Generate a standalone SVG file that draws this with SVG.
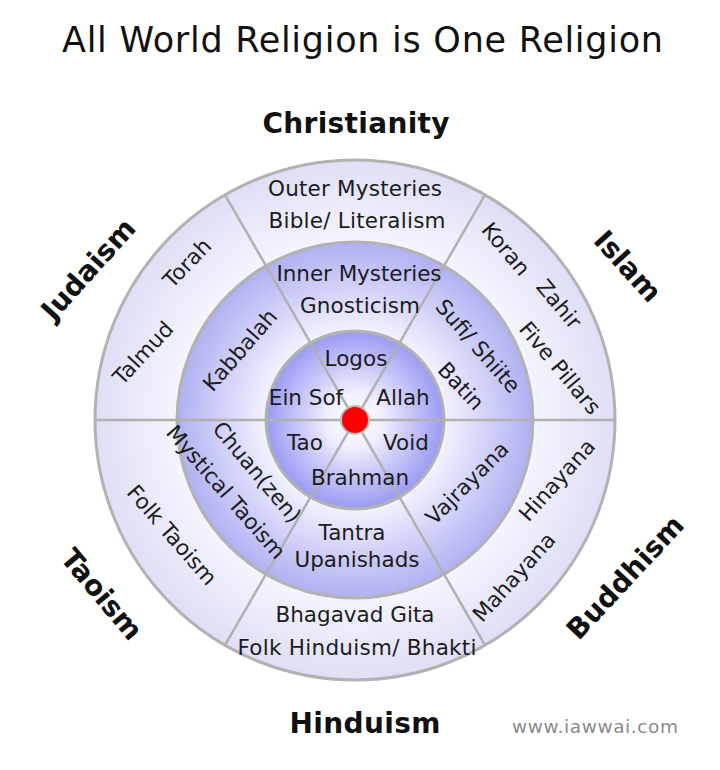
<svg xmlns="http://www.w3.org/2000/svg" width="720" height="770" viewBox="0 0 720 770">
<defs>
<radialGradient id="gOuter" gradientUnits="userSpaceOnUse" cx="355" cy="420" r="260">
<stop offset="0.68" stop-color="#f5f5fe"/>
<stop offset="1" stop-color="#dedef6"/>
</radialGradient>
<radialGradient id="gMid" gradientUnits="userSpaceOnUse" cx="355" cy="420" r="178">
<stop offset="0.5" stop-color="#f2f2ff"/>
<stop offset="1" stop-color="#b0b0f2"/>
</radialGradient>
<radialGradient id="gInner" gradientUnits="userSpaceOnUse" cx="355" cy="420" r="89">
<stop offset="0" stop-color="#ffffff"/>
<stop offset="0.3" stop-color="#f0f0ff"/>
<stop offset="1" stop-color="#9a9af3"/>
</radialGradient>
</defs>
<style>
.ring{stroke:#b2b2b2;stroke-width:3}
.div{stroke:#b0b0b0;stroke-width:2.5;fill:none}
.t{font-family:"DejaVu Sans",Verdana,sans-serif;font-size:21.5px;fill:#1c1c1c;text-anchor:middle}
.b{font-family:"DejaVu Sans",Verdana,sans-serif;font-size:28px;font-weight:bold;fill:#111;text-anchor:middle}
.title{font-family:"DejaVu Sans",Verdana,sans-serif;font-size:35px;fill:#111;text-anchor:middle}
.url{font-family:"DejaVu Sans",Verdana,sans-serif;font-size:18.5px;fill:#8a8a8a;text-anchor:middle}
</style>
<rect width="720" height="770" fill="#ffffff"/>
<text class="title" x="362.5" y="52" textLength="601">All World Religion is One Religion</text>

<g id="ring-outer"><circle class="ring" cx="355" cy="420" r="260" fill="url(#gOuter)" stroke-width="3.5"/></g>
<g id="ring-middle"><circle class="ring" cx="355" cy="420" r="178" fill="url(#gMid)"/></g>
<g id="ring-inner"><circle class="ring" cx="355" cy="420" r="89" fill="url(#gInner)"/></g>

<g id="connectors">
<line class="div" x1="95" y1="420" x2="615" y2="420"/>
<line class="div" x1="225" y1="194.8" x2="485" y2="645.2"/>
<line class="div" x1="485" y1="194.8" x2="225" y2="645.2"/>
</g>

<g id="center"><circle cx="355" cy="420" r="14" fill="#ff0000" stroke="#bdbdbd" stroke-width="2"/></g>

<g id="christianity">
<text class="b" x="356" y="133" font-size="27" textLength="187">Christianity</text>
<text class="t" x="355" y="196" textLength="174">Outer Mysteries</text>
<text class="t" x="357" y="228" textLength="177">Bible/ Literalism</text>
<text class="t" x="359" y="281" textLength="165">Inner Mysteries</text>
<text class="t" x="360" y="313" textLength="120">Gnosticism</text>
<text class="t" x="356" y="366">Logos</text>
</g>

<g id="islam">
<text class="b" transform="translate(628,266) rotate(48)" y="10">Islam</text>
<text class="t" transform="translate(506,249) rotate(50)" y="7.5">Koran</text>
<text class="t" transform="translate(559,304) rotate(50)" y="7.5">Zahir</text>
<text class="t" transform="translate(560,368) rotate(50)" y="7.5">Five Pillars</text>
<text class="t" transform="translate(478,346) rotate(49)" y="7.5">Sufi/ Shiite</text>
<text class="t" transform="translate(461,386) rotate(47)" y="7.5">Batin</text>
<text class="t" x="403" y="405">Allah</text>
</g>

<g id="judaism">
<text class="b" transform="translate(88,269) rotate(-48)" y="10">Judaism</text>
<text class="t" transform="translate(187,263) rotate(-46)" y="7.5">Torah</text>
<text class="t" transform="translate(143,353) rotate(-47)" y="7.5">Talmud</text>
<text class="t" transform="translate(240,350) rotate(-49)" y="7.5">Kabbalah</text>
<text class="t" x="306" y="405">Ein Sof</text>
</g>

<g id="taoism">
<text class="b" transform="translate(102,594) rotate(50)" y="10">Taoism</text>
<text class="t" transform="translate(172,535) rotate(49)" y="7.5">Folk Taoism</text>
<text class="t" transform="translate(226,492) rotate(49)" y="7.5">Mystical Taoism</text>
<text class="t" transform="translate(257,472) rotate(50)" y="7.5">Chuan(zen)</text>
<text class="t" x="305" y="450">Tao</text>
</g>

<g id="buddhism">
<text class="b" transform="translate(625,577) rotate(-47)" y="10">Buddhism</text>
<text class="t" transform="translate(557,480) rotate(-48)" y="7.5">Hinayana</text>
<text class="t" transform="translate(514,577) rotate(-48)" y="7.5">Mahayana</text>
<text class="t" transform="translate(467,483) rotate(-45)" y="7.5">Vajrayana</text>
<text class="t" x="406" y="450">Void</text>
</g>

<g id="hinduism">
<text class="b" x="365" y="733" font-size="27" textLength="151">Hinduism</text>
<text class="t" x="360" y="485">Brahman</text>
<text class="t" x="352" y="540">Tantra</text>
<text class="t" x="357" y="567">Upanishads</text>
<text class="t" x="355" y="622" textLength="159">Bhagavad Gita</text>
<text class="t" x="357" y="655" textLength="239">Folk Hinduism/ Bhakti</text>
</g>

<text class="url" x="595" y="733" textLength="166">www.iawwai.com</text>
</svg>
